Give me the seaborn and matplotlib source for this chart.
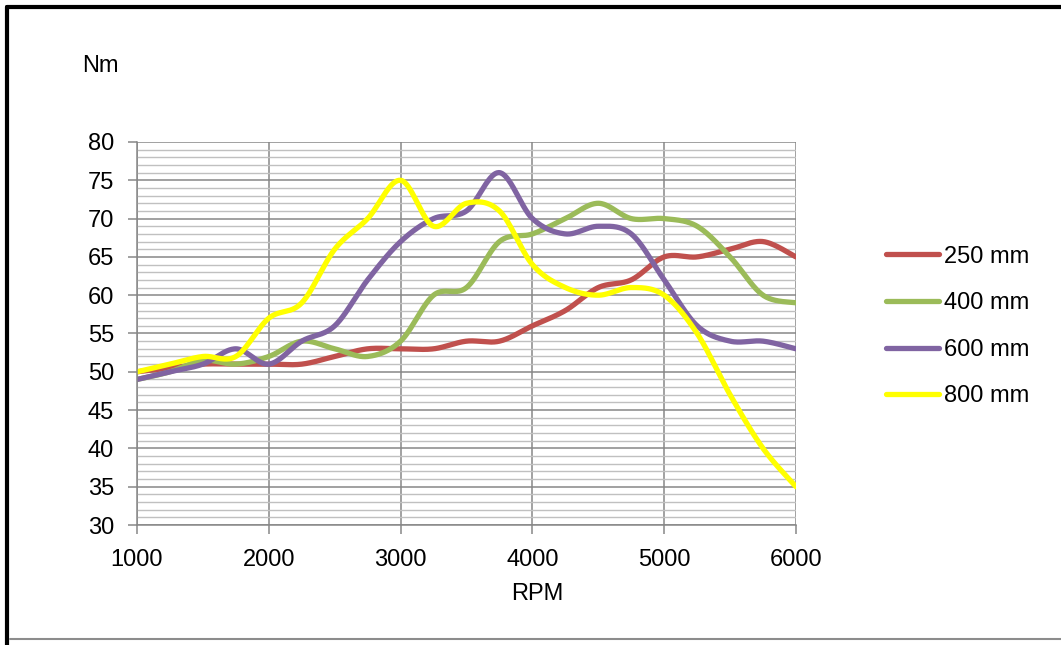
import numpy as np
import pandas as pd
import matplotlib
matplotlib.use("Agg")
import matplotlib.pyplot as plt
from matplotlib.lines import Line2D
from matplotlib.ticker import MultipleLocator
import seaborn as sns

rpm = [1000, 1250, 1500, 1750, 2000, 2250, 2500, 2750, 3000, 3250, 3500,
       3750, 4000, 4250, 4500, 4750, 5000, 5250, 5500, 5750, 6000]
torque_250 = [50, 50.5, 51, 51, 51, 51, 52, 53, 53, 53, 54,
              54, 56, 58, 61, 62, 65, 65, 66, 67, 65]
torque_400 = [49, 50, 51.5, 51, 52, 54, 53, 52, 54, 60, 61,
              67, 68, 70, 72, 70, 70, 69, 65, 60, 59]
torque_600 = [49, 50, 51, 53, 51, 54, 56, 62, 67, 70, 71,
              76, 70, 68, 69, 68, 62, 56, 54, 54, 53]
torque_800 = [50, 51, 52, 52, 57, 59, 66, 70, 75, 69, 72,
              71, 64, 61, 60, 61, 60, 55, 47, 40, 35]
series_names = ["250 mm", "400 mm", "600 mm", "800 mm"]
series_colors = ["#C0504D", "#9BBB59", "#8064A2", "#FFFF00"]


def smooth_curve(xs, ys, steps=40):
    """Cubic Bezier spline through every point (Catmull-Rom style tangents)."""
    xs = np.asarray(xs, float)
    ys = np.asarray(ys, float)
    px = np.concatenate([[xs[0]], xs, [xs[-1]]])
    py = np.concatenate([[ys[0]], ys, [ys[-1]]])
    out_x, out_y = [], []
    t = np.linspace(0, 1, steps, endpoint=False)
    for i in range(1, len(px) - 2):
        p0 = np.array([px[i], py[i]])
        p3 = np.array([px[i + 1], py[i + 1]])
        c1 = p0 + (np.array([px[i + 1], py[i + 1]]) - np.array([px[i - 1], py[i - 1]])) / 6
        c2 = p3 - (np.array([px[i + 2], py[i + 2]]) - np.array([px[i], py[i]])) / 6
        b = ((1 - t) ** 3)[:, None] * p0 + (3 * (1 - t) ** 2 * t)[:, None] * c1 \
            + (3 * (1 - t) * t ** 2)[:, None] * c2 + (t ** 3)[:, None] * p3
        out_x.extend(b[:, 0])
        out_y.extend(b[:, 1])
    out_x.append(xs[-1])
    out_y.append(ys[-1])
    return np.array(out_x), np.array(out_y)


frames = []
for name, vals in zip(series_names, [torque_250, torque_400, torque_600, torque_800]):
    sx, sy = smooth_curve(rpm, vals)
    frames.append(pd.DataFrame({"RPM": sx, "Nm": sy, "series": name}))
df = pd.concat(frames, ignore_index=True)

sns.set_theme(style="white")
plt.rcParams["font.family"] = ["Liberation Sans", "DejaVu Sans"]
plt.rcParams["text.color"] = "black"

FS = 17
LW = 3.8

fig = plt.figure(figsize=(10.61, 6.45), dpi=100)
ax = fig.add_axes([137 / 1061, 120 / 645, 659 / 1061, 383 / 645])

sns.lineplot(data=df, x="RPM", y="Nm", hue="series", hue_order=series_names,
             palette=series_colors, sort=False, estimator=None,
             linewidth=LW, ax=ax, legend=False, solid_capstyle="round")

ax.set_xlim(1000, 6000)
ax.set_ylim(30, 80)
ax.xaxis.set_major_locator(MultipleLocator(1000))
ax.yaxis.set_major_locator(MultipleLocator(5))
ax.yaxis.set_minor_locator(MultipleLocator(1))

ax.grid(True, which="minor", axis="y", color="#c0c0c0", linewidth=1.0)
ax.grid(True, which="major", axis="both", color="#878787", linewidth=1.1)
ax.set_axisbelow(True)

for side in ["top", "right"]:
    ax.spines[side].set_visible(False)
for side in ["left", "bottom"]:
    ax.spines[side].set_color("#878787")
    ax.spines[side].set_linewidth(1.1)

ax.tick_params(axis="both", which="major", length=6.5, width=1.1, color="#878787",
               labelsize=FS, labelcolor="black", direction="out")
ax.tick_params(axis="y", which="major", left=True, pad=10)
ax.tick_params(axis="x", which="major", bottom=True, pad=11)
ax.tick_params(axis="both", which="minor", length=0)

ax.set_xlabel("")
ax.set_ylabel("")
fig.text(100 / 1061, 1 - 66 / 645, "Nm", fontsize=FS, ha="center", va="center", color="black")
fig.text(537 / 1061, 1 - 594 / 645, "RPM", fontsize=FS, ha="center", va="center", color="black")

handles = [Line2D([0], [0], color=c, linewidth=LW, solid_capstyle="round") for c in series_colors]
fig.legend(handles, series_names, loc="center left", bbox_to_anchor=(886 / 1061, 1 - 326.5 / 645),
           frameon=False, fontsize=FS, handlelength=2.25, handletextpad=0.2,
           labelspacing=1.04, borderpad=0, borderaxespad=0)

# outer frame
fig.add_artist(Line2D([7 / 1061, 1], [1 - 7 / 645, 1 - 7 / 645], color="black", linewidth=3.0,
                      transform=fig.transFigure))
fig.add_artist(Line2D([7 / 1061, 7 / 1061], [0, 1 - 7 / 645], color="black", linewidth=3.0,
                      transform=fig.transFigure))
fig.add_artist(Line2D([10 / 1061, 1], [1 - 639 / 645, 1 - 639 / 645], color="#8c8c8c",
                      linewidth=1.5, transform=fig.transFigure))

fig.savefig("out.png", dpi=100, facecolor="white")
